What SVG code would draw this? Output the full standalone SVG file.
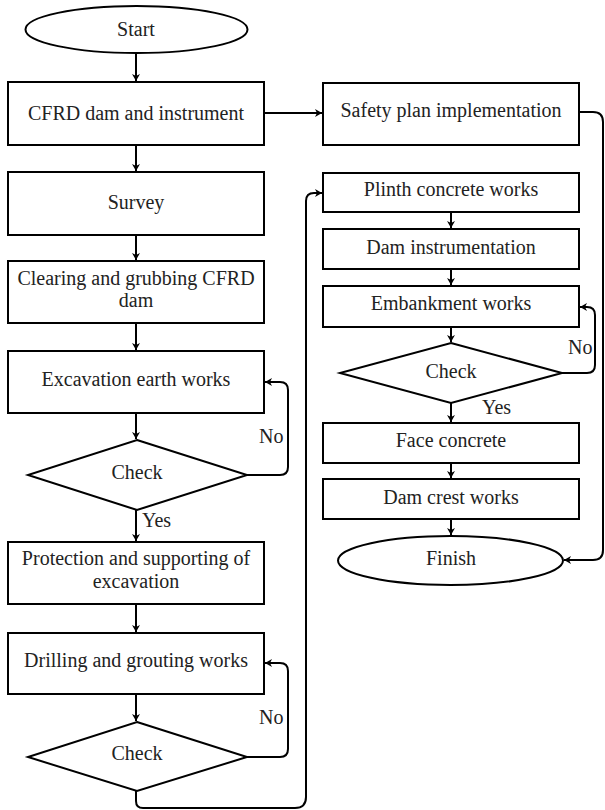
<svg xmlns="http://www.w3.org/2000/svg" width="605" height="810" viewBox="0 0 605 810">
<style>
.s{fill:#fff;stroke:#000;stroke-width:2}
.t{font-family:"Liberation Serif","Times New Roman",serif;font-size:20px;fill:#222;text-anchor:middle}
.l{font-family:"Liberation Serif","Times New Roman",serif;font-size:20px;fill:#222}
.c{fill:none;stroke:#000;stroke-width:2}
</style>
<defs>
<marker id="a" markerWidth="10" markerHeight="10" refX="8" refY="5" orient="auto" markerUnits="userSpaceOnUse">
<path d="M1,1 L8,5 L1,9 L3,5 z" fill="#000"/>
</marker>
</defs>
<rect width="605" height="810" fill="#fff"/>
<g id="connectors" class="c" marker-end="url(#a)">
<path d="M136,53 V81"/>
<path d="M136,145 V171"/>
<path d="M136,235 V260"/>
<path d="M136,323 V350"/>
<path d="M136,413 V439"/>
<path d="M136,510 V541"/>
<path d="M136,604 V632"/>
<path d="M136,694 V721"/>
<path d="M247,475 H280 Q288,475 288,467 V390 Q288,382 280,382 H265"/>
<path d="M247,757 H280 Q288,757 288,749 V671 Q288,663 280,663 H265"/>
<path d="M136,791 V801 Q136,808 143,808 H295 Q306,808 306,797 V201 Q306,193 314,193 H322"/>
<path d="M264,113 H322"/>
<path d="M579,112 H593 Q603,112 603,122 V550 Q603,560 593,560 H564"/>
<path d="M451,212 V228"/>
<path d="M451,269 V285"/>
<path d="M451,327 V342"/>
<path d="M451,403 V422"/>
<path d="M451,463 V478"/>
<path d="M451,519 V535"/>
<path d="M562,373 H587 Q595,373 595,365 V315 Q595,307 587,307 H580"/>
</g>
<g id="start"><ellipse class="s" cx="136.5" cy="29.5" rx="111" ry="23.5"/><text class="t" x="136" y="36">Start</text></g>
<g id="cfrd"><rect class="s" x="8" y="82" width="256" height="63"/><text class="t" x="136" y="120">CFRD dam and instrument</text></g>
<g id="survey"><rect class="s" x="8" y="172" width="256" height="63"/><text class="t" x="136" y="209">Survey</text></g>
<g id="clearing"><rect class="s" x="8" y="261" width="256" height="62"/><text class="t" x="136" y="285">Clearing and grubbing CFRD</text><text class="t" x="136" y="307">dam</text></g>
<g id="excavation"><rect class="s" x="8" y="351" width="256" height="62"/><text class="t" x="136" y="386">Excavation earth works</text></g>
<g id="check1"><polygon class="s" points="137,440 247,475 137,510 28,475"/><text class="t" x="137" y="479">Check</text></g>
<g id="protection"><rect class="s" x="8" y="542" width="256" height="62"/><text class="t" x="136" y="565">Protection and supporting of</text><text class="t" x="136" y="588">excavation</text></g>
<g id="drilling"><rect class="s" x="8" y="633" width="256" height="61"/><text class="t" x="136" y="667">Drilling and grouting works</text></g>
<g id="check2"><polygon class="s" points="137,722 247,757 137,791 28,757"/><text class="t" x="137" y="760">Check</text></g>
<g id="safety"><rect class="s" x="323" y="83" width="256" height="62"/><text class="t" x="451" y="117">Safety plan implementation</text></g>
<g id="plinth"><rect class="s" x="323" y="173" width="256" height="39"/><text class="t" x="451" y="196">Plinth concrete works</text></g>
<g id="daminstr"><rect class="s" x="323" y="229" width="256" height="40"/><text class="t" x="451" y="254">Dam instrumentation</text></g>
<g id="embankment"><rect class="s" x="323" y="286" width="256" height="41"/><text class="t" x="451" y="310">Embankment works</text></g>
<g id="check3"><polygon class="s" points="451,343 562,373 451,403 340,373"/><text class="t" x="451" y="378">Check</text></g>
<g id="face"><rect class="s" x="323" y="423" width="256" height="40"/><text class="t" x="451" y="447">Face concrete</text></g>
<g id="crest"><rect class="s" x="323" y="479" width="256" height="40"/><text class="t" x="451" y="504">Dam crest works</text></g>
<g id="finish"><ellipse class="s" cx="450.5" cy="560.5" rx="112.5" ry="24.5"/><text class="t" x="451" y="565">Finish</text></g>
<g id="labels">
<text class="l" x="259" y="443">No</text>
<text class="l" x="259" y="724">No</text>
<text class="l" x="568" y="354">No</text>
<text class="l" x="142" y="527">Yes</text>
<text class="l" x="482" y="414">Yes</text>
</g>
</svg>
